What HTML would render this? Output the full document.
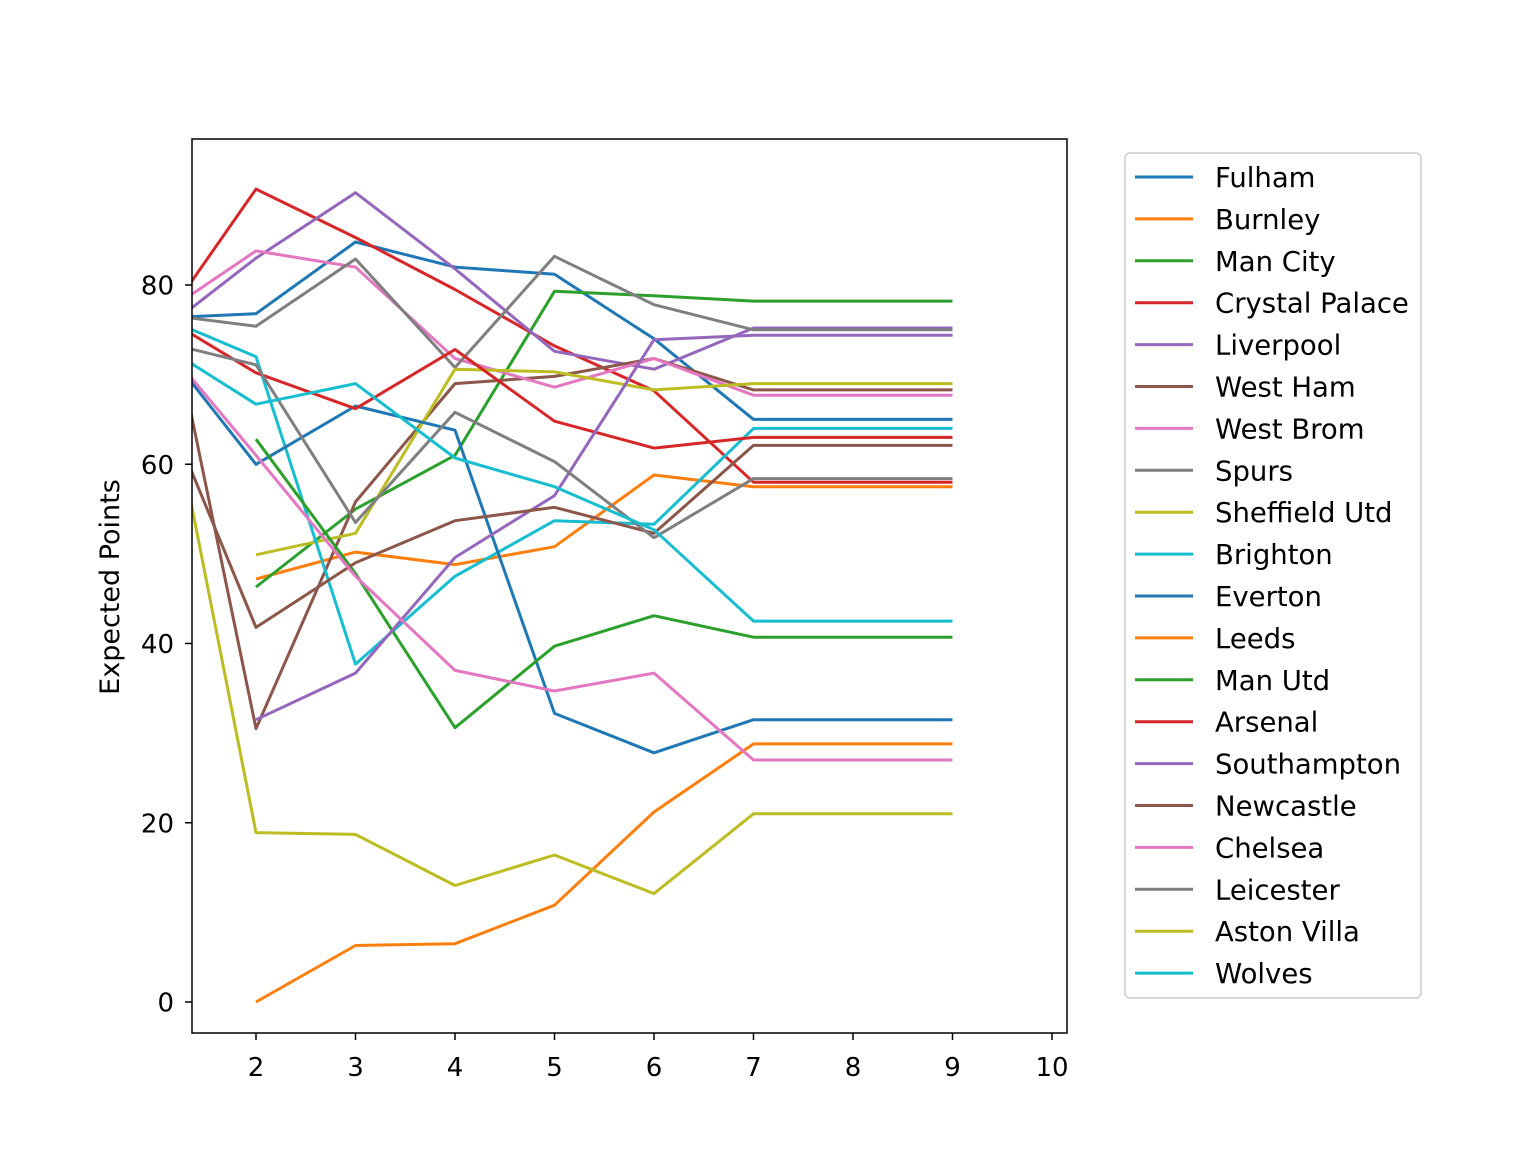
<!DOCTYPE html>
<html><head><meta charset="utf-8"><style>
body{margin:0;background:#fff;}
svg{display:block;font-family:"DejaVu Sans","Liberation Sans",sans-serif;}
</style></head><body>
<svg id="chart" width="1538" height="1162" viewBox="0 0 1538 1162" xmlns="http://www.w3.org/2000/svg">
<rect width="1538" height="1162" fill="#fff"/>
<defs><clipPath id="plotclip"><rect x="192" y="139" width="875" height="894"/></clipPath></defs>
<g id="lines" clip-path="url(#plotclip)"></g>
<rect x="192" y="139" width="875" height="894" fill="none" stroke="#000" stroke-width="1.5"/>
<g id="xticks"></g>
<g id="yticks"></g>
<text x="119" y="587" transform="rotate(-90 119 587)" text-anchor="middle" font-size="27">Expected Points</text>
<rect x="1125" y="153" width="296" height="845" rx="5" fill="#fff" stroke="#ccc" stroke-width="1.5"/>
<g id="legend"></g>
</svg>
<script>
const teams=["Fulham","Burnley","Man City","Crystal Palace","Liverpool","West Ham","West Brom","Spurs","Sheffield Utd","Brighton","Everton","Leeds","Man Utd","Arsenal","Southampton","Newcastle","Chelsea","Leicester","Aston Villa","Wolves"];
const weeks=[1,2,3,4,5,6,7,8,9];
const fulham=[76.3,76.8,84.8,82,81.2,74,65,65,65];
const burnley=[null,47.2,50.2,48.8,50.8,58.8,57.5,57.5,57.5];
const manCity=[null,46.3,55,61,79.3,78.8,78.2,78.2,78.2];
const crystalPalace=[74.8,90.7,85.3,79.5,73.2,68.2,58,58,58];
const liverpool=[74.4,83,90.3,81.8,72.6,70.6,75.2,75.2,75.2];
const westHam=[84.4,30.5,55.8,69,69.8,71.8,68.3,68.3,68.3];
const westBrom=[76.3,83.8,82,71.8,68.6,71.8,67.7,67.7,67.7];
const spurs=[76.8,75.4,82.9,70.8,83.2,77.8,75,75,75];
const sheffieldUtd=[null,49.9,52.3,70.6,70.3,68.3,69,69,69];
const brighton=[76.7,72,37.7,47.5,53.7,53.3,64,64,64];
const everton=[74.1,60,66.5,63.8,32.2,27.8,31.5,31.5,31.5];
const leeds=[null,0,6.3,6.5,10.8,21.2,28.8,28.8,28.8];
const manUtd=[null,62.8,47.8,30.6,39.7,43.1,40.7,40.7,40.7];
const arsenal=[76.9,70.2,66.2,72.8,64.8,61.8,63,63,63];
const southampton=[null,31.5,36.7,49.6,56.5,73.9,74.4,74.4,74.4];
const newcastle=[68.7,41.8,49,53.7,55.2,52.3,62.1,62.1,62.1];
const chelsea=[74.3,61,47.5,37,34.7,36.7,27,27,27];
const leicester=[73.8,71.1,53.5,65.8,60.3,51.8,58.4,58.4,58.4];
const astonVilla=[75.3,18.9,18.7,13,16.4,12.1,21,21,21];
const wolves=[73.7,66.7,69,60.7,57.5,52.7,42.5,42.5,42.5];
const seriesValues=[fulham,burnley,manCity,crystalPalace,liverpool,westHam,westBrom,spurs,sheffieldUtd,brighton,everton,leeds,manUtd,arsenal,southampton,newcastle,chelsea,leicester,astonVilla,wolves];
const xTickLabels=[2,3,4,5,6,7,8,9,10];
const yTickLabels=[0,20,40,60,80];
const colors=["#1f77b4","#ff7f0e","#2ca02c","#d62728","#9467bd","#8c564b","#e377c2","#7f7f7f","#bcbd22","#17becf"];
const NS="http://www.w3.org/2000/svg";
function xs(v){return 256+(v-2)*99.5;}
function ys(v){return 1002-v*8.9625;}
const lines=document.getElementById('lines');
seriesValues.forEach((vals,i)=>{
  let d="";let pen=false;
  vals.forEach((v,j)=>{ if(v===null){pen=false;return;} d+=(pen?"L":"M")+xs(weeks[j]).toFixed(1)+" "+ys(v).toFixed(1)+" "; pen=true;});
  const p=document.createElementNS(NS,'path');
  p.setAttribute('d',d);p.setAttribute('fill','none');p.setAttribute('stroke',colors[i%10]);p.setAttribute('stroke-width','3');p.setAttribute('stroke-linejoin','round');
  
  
  lines.appendChild(p);
});
const xt=document.getElementById('xticks');
xTickLabels.forEach(v=>{
  const l=document.createElementNS(NS,'line');
  l.setAttribute('x1',xs(v));l.setAttribute('x2',xs(v));l.setAttribute('y1',1033);l.setAttribute('y2',1040);l.setAttribute('stroke','#000');l.setAttribute('stroke-width','1.5');
  
  
  xt.appendChild(l);
  const t=document.createElementNS(NS,'text');
  t.setAttribute('x',xs(v));t.setAttribute('y',1076);t.setAttribute('text-anchor','middle');t.setAttribute('font-size','26');t.textContent=v;
  
  
  xt.appendChild(t);
});
const yt=document.getElementById('yticks');
yTickLabels.forEach(v=>{
  const l=document.createElementNS(NS,'line');
  l.setAttribute('x1',185);l.setAttribute('x2',192);l.setAttribute('y1',ys(v));l.setAttribute('y2',ys(v));l.setAttribute('stroke','#000');l.setAttribute('stroke-width','1.5');
  
  
  yt.appendChild(l);
  const t=document.createElementNS(NS,'text');
  t.setAttribute('x',174);t.setAttribute('y',ys(v)+9.5);t.setAttribute('text-anchor','end');t.setAttribute('font-size','26');t.textContent=v;
  
  
  yt.appendChild(t);
});
const lg=document.getElementById('legend');
teams.forEach((name,i)=>{
  const y=177+i*41.9;
  const g=document.createElementNS(NS,'g');
  
  
  const l=document.createElementNS(NS,'line');
  l.setAttribute('x1',1135);l.setAttribute('x2',1193);l.setAttribute('y1',y);l.setAttribute('y2',y);l.setAttribute('stroke',colors[i%10]);l.setAttribute('stroke-width','3');
  g.appendChild(l);
  const t=document.createElementNS(NS,'text');
  t.setAttribute('x',1215);t.setAttribute('y',y+10);t.setAttribute('font-size','27.5');t.textContent=name;
  g.appendChild(t);
  lg.appendChild(g);
});
</script>
</body></html>
